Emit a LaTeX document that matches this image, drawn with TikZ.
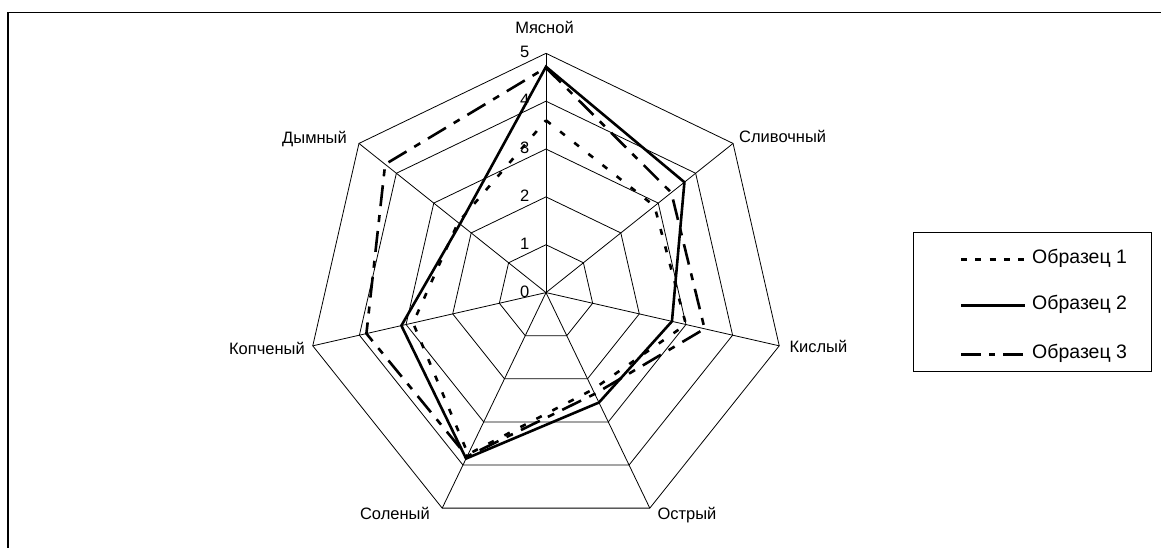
\documentclass[tikz,border=0pt]{standalone}
\usepackage{fontspec}
\setmainfont{Liberation Sans}
\begin{document}
\begin{tikzpicture}[x=1pt,y=1pt,
  frame/.style={line width=1.1pt},
  gridline/.style={line width=0.8pt},
  ser/.style={line width=2.6pt, line join=miter, miter limit=4},
  sA/.style={ser, dash pattern=on 6pt off 12pt},
  sB/.style={ser},
  sC/.style={ser, dash pattern=on 21pt off 9pt on 7pt off 9pt},
  legA/.style={line width=3pt, dash pattern=on 6pt off 8.3pt},
  legB/.style={line width=3pt},
  legC/.style={line width=3pt, dash pattern=on 20pt off 8pt on 6pt off 8pt},
  axlab/.style={font=\fontsize{16.5}{18}\selectfont, inner sep=0pt},
  numlab/.style={font=\fontsize{16.5}{18}\selectfont, inner sep=0pt, anchor=east},
  leglab/.style={font=\fontsize{19.5}{22}\selectfont, inner sep=0pt, anchor=base west}]
\useasboundingbox (0,0) rectangle (1161,548);
% outer frame (only top and left visible)
\draw[frame] (8,0) -- (8,535.3) -- (1161,535.3);
\def\u{47.85}
\begin{scope}[shift={(546,255.4)}]
  \coordinate (C) at (0,0);
  % rings
  \foreach \r in {1,...,5}{
    \draw[gridline] (90:\r*\u) \foreach \k in {1,...,6}{ -- (90-\k*360/7:\r*\u)} -- cycle;
  }
  % spokes
  \foreach \k in {0,...,6}{
    \coordinate (v\k) at (90-\k*360/7:5*\u);
    \draw[gridline] (C) -- (v\k);
  }
  % scale numbers
  \foreach \n in {0,...,5}{
    \node[numlab] (n\n) at (-16.4,\n*\u+1) {\n};
  }
  % series 1 (dotted)
  \draw[sA] (90:3.6*\u) -- (90-1*360/7:2.9*\u) -- (90-2*360/7:3.0*\u) -- (90-3*360/7:2.25*\u)
     -- (90-4*360/7:3.75*\u) -- (90-5*360/7:2.85*\u) -- (90-6*360/7:2.35*\u) -- cycle;
  % series 2 (solid)
  \draw[sB] (90:4.72*\u) -- (90-1*360/7:3.7*\u) -- (90-2*360/7:2.7*\u) -- (90-3*360/7:2.55*\u)
     -- (90-4*360/7:3.85*\u) -- (90-5*360/7:3.1*\u) -- (90-6*360/7:2.3*\u) -- cycle;
  % series 3 (dash-dot)
  \draw[sC] (90:4.7*\u) -- (90-1*360/7:3.35*\u) -- (90-2*360/7:3.4*\u) -- (90-3*360/7:2.35*\u)
     -- (90-4*360/7:3.8*\u) -- (90-5*360/7:3.85*\u) -- (90-6*360/7:4.3*\u) -- cycle;
\end{scope}
% axis labels
\node[axlab, anchor=base] (l0) at (544.5,514.5) {Мясной};
\node[axlab, anchor=base west] (l1) at (739,405.3) {Сливочный};
\node[axlab, anchor=base west] (l2) at (789.3,195.3) {Кислый};
\node[axlab, anchor=base west] (l3) at (657.3,28) {Острый};
\node[axlab, anchor=base east] (l4) at (430,28) {Соленый};
\node[axlab, anchor=base east] (l5) at (305,193) {Копченый};
\node[axlab, anchor=base east] (l6) at (347,404.8) {Дымный};
% legend
\draw[line width=1pt] (913.3,176.3) rectangle (1151,315.7);
\coordinate (a1) at (961,288.7); \coordinate (b1) at (1025,288.7);
\coordinate (a2) at (961,242);   \coordinate (b2) at (1025,242);
\coordinate (a3) at (961,193);   \coordinate (b3) at (1025,193);
\draw[legA] (a1) -- (b1);
\draw[legB] (a2) -- (b2);
\draw[legC] (a3) -- (b3);
\node[leglab] (t1) at (1032,284.7) {Образец 1};
\node[leglab] (t2) at (1032,238) {Образец 2};
\node[leglab] (t3) at (1032,189) {Образец 3};
\end{tikzpicture}
\end{document}
